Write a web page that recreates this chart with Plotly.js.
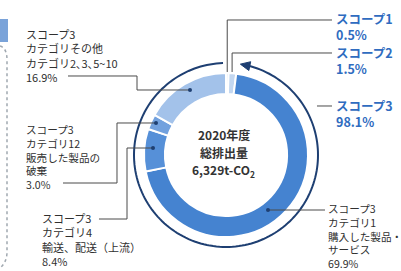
<!DOCTYPE html>
<html>
<head>
<meta charset="utf-8">
<script src="https://cdn.plot.ly/plotly-3.0.1.min.js"></script>
<style>html,body{margin:0;padding:0;background:#fff;}#chart{width:401px;height:271px;}</style>
</head>
<body>
<div id="chart"></div>
<script>
// ---- data ----
const sliceNames = ["スコープ1", "スコープ2", "スコープ3 カテゴリ1", "スコープ3 カテゴリ4", "スコープ3 カテゴリ12", "スコープ3 カテゴリその他"];
const sliceValues = [0.5, 1.5, 69.9, 8.4, 3.0, 16.9];
const scope3Total = 98.1;
const centerLines = ["2020年度", "総排出量", "6,329t-CO<sub>2</sub>"];
const labelScope1 = ["スコープ1", "0.5%"];
const labelScope2 = ["スコープ2", "1.5%"];
const labelScope3 = ["スコープ3", "98.1%"];
const labelCat1 = ["スコープ3", "カテゴリ1", "購入した製品・", "サービス", "69.9%"];
const labelCat4 = ["スコープ3", "カテゴリ4", "輸送、配送（上流）", "8.4%"];
const labelCat12 = ["スコープ3", "カテゴリ12", "販売した製品の", "破棄", "3.0%"];
const labelOther = ["スコープ3", "カテゴリその他", "カテゴリ2､3､5~10", "16.9%"];

// ---- layout helpers ----
const W = 401, H = 271;
const px = x => x / W;
const py = y => 1 - y / H;
const CX = 226, CY = 155, R = 82, HOLE = 0.745, RING = 92;
const FONT = '"Noto Sans CJK JP", "Noto Sans", sans-serif';
const colors = ["#c3d7f0", "#c3d7f0", "#4583d0", "#5690d8", "#72a1de", "#a3c2ea"];

const pie = {
  type: "pie",
  values: sliceValues,
  labels: sliceNames,
  sort: false,
  direction: "clockwise",
  rotation: 0,
  hole: HOLE,
  textinfo: "none",
  hoverinfo: "none",
  showlegend: false,
  marker: {colors: colors, line: {color: "#ffffff", width: 2}},
  domain: {x: [px(CX - R), px(CX + R)], y: [py(CY + R), py(CY - R)]}
};

const shapes = [];
const annotations = [];
const lineColor = "#4a4a4a";

function pathFrom(pts) {
  return pts.map((p, i) => (i ? "L" : "M") + px(p[0]).toFixed(5) + "," + py(p[1]).toFixed(5)).join(" ");
}
function leader(pts, dot) {
  shapes.push({type: "path", xref: "paper", yref: "paper", path: pathFrom(pts), line: {color: lineColor, width: 1}});
  if (dot) {
    const d = dot;
    shapes.push({type: "circle", xref: "paper", yref: "paper", x0: px(d[0] - 2), x1: px(d[0] + 2), y0: py(d[1] + 2), y1: py(d[1] - 2), fillcolor: "#1e3f72", line: {width: 0}});
  }
}
function textBlock(lines, x, yMid, opts) {
  annotations.push({
    xref: "paper", yref: "paper", x: px(x), y: py(yMid),
    xanchor: opts.anchor || "left", yanchor: "middle", align: opts.anchor === "center" ? "center" : "left",
    showarrow: false, borderpad: 0, text: lines.join("<br>"),
    font: {family: FONT, size: opts.size, color: opts.color, weight: opts.weight || "normal"}
  });
}

// angle (deg, clockwise from top) helper on a circle
function pt(theta, r) {
  const a = theta * Math.PI / 180;
  return [CX + r * Math.sin(a), CY - r * Math.cos(a)];
}
const total = sliceValues.reduce((a, b) => a + b, 0);
const startScope3 = (sliceValues[0] + sliceValues[1]) / total * 360;
const arcStart = startScope3 + 1.8;
const arcEnd = arcStart + scope3Total / 100 * 360 - 4;
const arcPts = [];
for (let t = arcStart + 5; t <= arcEnd; t += 2) arcPts.push(pt(t, RING));
arcPts.push(pt(arcEnd, RING));
shapes.push({type: "path", xref: "paper", yref: "paper", path: pathFrom(arcPts), line: {color: "#1e3f72", width: 2}});
// arrow head
{
  const tip = pt(arcStart, RING);
  const back = pt(arcStart + 6, RING);
  const dx = back[0] - tip[0], dy = back[1] - tip[1];
  const len = Math.hypot(dx, dy), nx = -dy / len, ny = dx / len;
  const p1 = [back[0] + nx * 4.5, back[1] + ny * 4.5];
  const p2 = [back[0] - nx * 4.5, back[1] - ny * 4.5];
  shapes.push({type: "path", xref: "paper", yref: "paper", path: pathFrom([tip, p1, p2]) + " Z", fillcolor: "#1e3f72", line: {color: "#1e3f72", width: 1}});
}

// decorative left panel edge
shapes.push({type: "rect", xref: "paper", yref: "paper", x0: px(0), x1: px(8), y0: py(42), y1: py(19), fillcolor: "#7aa3d9", line: {width: 0}});
shapes.push({type: "path", xref: "paper", yref: "paper",
  path: "M" + px(0) + "," + py(46) + " Q" + px(7) + "," + py(48) + " " + px(7) + "," + py(60) + " L" + px(7) + "," + py(252) + " Q" + px(7) + "," + py(262) + " " + px(0) + "," + py(268),
  line: {color: "#a0a8b0", width: 1.5, dash: "dot"}});

// leader lines
const topA = pt(sliceValues[0] / total * 180, R - 4);
const topB = pt((sliceValues[0] + sliceValues[1] / 2) / total * 360, R - 4);
leader([[332, 20], [topA[0], 20], [topA[0], 72]], null);
leader([[332, 53], [topB[0], 53], [topB[0], 72]], null);
leader([[332, 106], [RING + CX - 1, 106]], null);
leader([[68, 76], [137, 76], [137, 90], [190, 90]], [190, 90]);
leader([[63, 183], [117, 183], [117, 123], [156, 123]], [156, 123]);
leader([[99, 219], [127, 219], [127, 148], [153, 148]], [153, 148]);
leader([[268, 210], [325, 210]], [268, 210]);

// labels
const blue = "#2f6cc0", grey = "#303030";
textBlock(labelScope1, 335, 26, {size: 12.5, color: blue, weight: "bold"});
textBlock(labelScope2, 335, 60, {size: 12.5, color: blue, weight: "bold"});
textBlock(labelScope3, 335, 113, {size: 12.5, color: blue, weight: "bold"});
textBlock(labelOther, 25, 56, {size: 11, color: grey});
textBlock(labelCat12, 25, 157, {size: 10.6, color: grey});
textBlock(labelCat4, 41, 239, {size: 11, color: grey});
textBlock(labelCat1, 327, 236, {size: 10.6, color: grey});
centerLines.forEach((t, i) => textBlock([t], CX - 2, 134 + i * 18, {size: 12, color: "#333333", anchor: "center", weight: "bold"}));

const layout = {
  width: W, height: H,
  margin: {l: 0, r: 0, t: 0, b: 0},
  paper_bgcolor: "#ffffff",
  plot_bgcolor: "#ffffff",
  showlegend: false,
  shapes: shapes,
  annotations: annotations
};
Plotly.newPlot("chart", [pie], layout, {staticPlot: true, displayModeBar: false});
</script>
</body>
</html>
